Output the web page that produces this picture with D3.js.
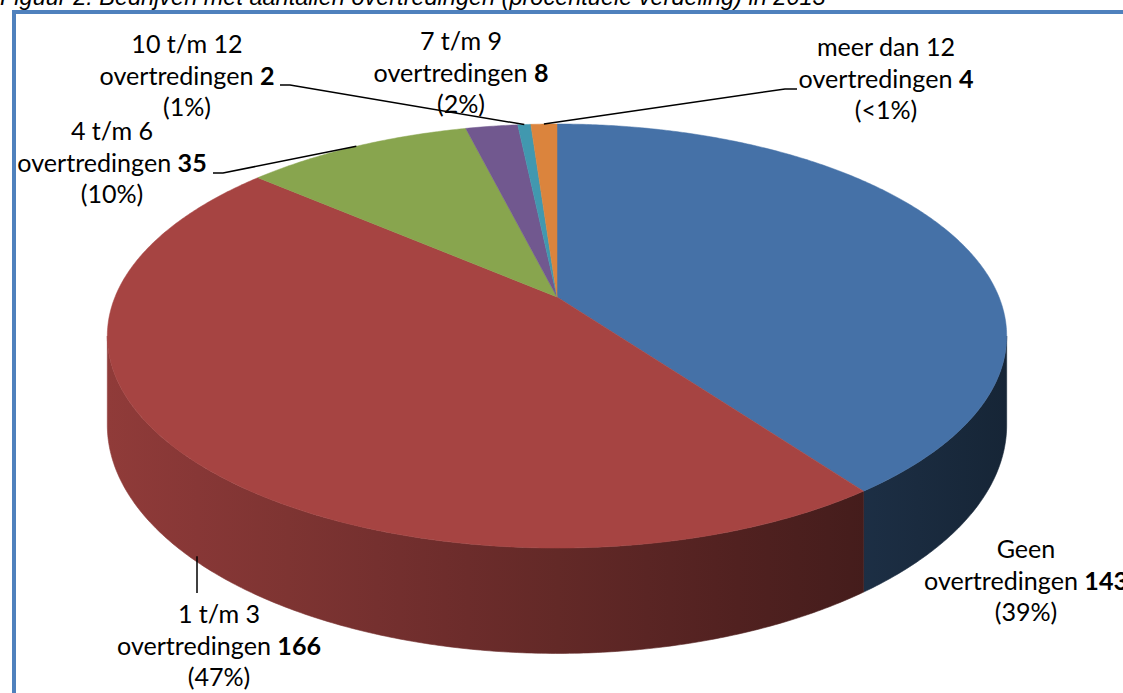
<!DOCTYPE html>
<html><head><meta charset="utf-8">
<script src="https://cdn.jsdelivr.net/npm/d3@7"></script>
<style>html,body{margin:0;padding:0;background:#fff;overflow:hidden}</style>
</head><body>
<svg id="c" width="1123" height="693" xmlns="http://www.w3.org/2000/svg"></svg>
<script>
// ---------- data ----------
const categories = ["Geen overtredingen","1 t/m 3 overtredingen","4 t/m 6 overtredingen","7 t/m 9 overtredingen","10 t/m 12 overtredingen","meer dan 12 overtredingen"];
const labelFirstLines = ["Geen","1 t/m 3","4 t/m 6","7 t/m 9","10 t/m 12","meer dan 12"];
const values = [143,166,35,8,2,4];
const pctLabels = ["(39%)","(47%)","(10%)","(2%)","(1%)","(<1%)"];
const colors = ["#4571A7","#A64442","#88A54E","#71588F","#4198AF","#DB843D"];
const titleText = "Figuur 2: Bedrijven met aantallen overtredingen (procentuele verdeling) in 2013";

// ---------- layout ----------
const W = 1123, H = 693;
const CX = 557, CY = 297, RA = 442, RB = 150.2, PERSP = -0.184, DEPTH = 86;
const LINE = 31.5;
const labelAnchor = [[1026,558],[219,623],[112,140],[461,50],[187,53],[886,56]];
// label-side ends of leader lines (null = no leader)
const leaderOuter = [null, [[197,593]], [[213,173],[223,173]], null, [[280,85],[290,85]], [[797,89],[785,89]]];

const svg = d3.select("#c");
const defs = svg.append("defs");

// frame
svg.append("rect").attr("x",14).attr("y",12).attr("width",1300).attr("height",900)
  .attr("fill","none").attr("stroke","#4F81BD").attr("stroke-width",4);

// title
const title = svg.append("text").attr("x",0).attr("y",5)
  .attr("font-family","'Liberation Sans', Arial, sans-serif").attr("font-style","italic")
  .attr("font-size",19).attr("fill","#000").text(titleText);
const tw = title.node().getComputedTextLength();
title.attr("font-size", 19*826/tw);

// projection of a pie angle onto the tilted perspective disc
function proj(a, depth){
  const u = Math.sin(a), v = -Math.cos(a);
  const w = 1 + PERSP*v;
  return [CX + RA*u/w, (RB*v + CY)/w + depth/w];
}
function arcPts(a0, a1, depth){
  const n = Math.max(2, Math.ceil(Math.abs(a1-a0)/(Math.PI/360)));
  return d3.range(n+1).map(i => proj(a0 + (a1-a0)*i/n, depth));
}

const pie = d3.pie().sort(null).value(d => d).startAngle(0).endAngle(2*Math.PI);
const arcs = pie(values);

const shade = d3.scaleLinear().domain([107,1008]).range([0.87,0.325]);
function darker(c, f){ const r = d3.rgb(c); return d3.rgb(r.r*f, r.g*f, r.b*f).formatHex(); }

// side gradients
colors.forEach((c,i) => {
  const g = defs.append("linearGradient").attr("id","g"+i)
    .attr("gradientUnits","userSpaceOnUse").attr("x1",107).attr("x2",1008).attr("y1",0).attr("y2",0);
  d3.range(0,11).forEach(k => {
    const x = 107 + (1008-107)*k/10;
    g.append("stop").attr("offset",(k*10)+"%").attr("stop-color",darker(c, shade(x)));
  });
});

const line = d3.line();
const visA0 = Math.acos(PERSP), visA1 = 2*Math.PI - Math.acos(PERSP);

// side walls
const walls = svg.append("g");
arcs.forEach((d,i) => {
  const a0 = Math.max(d.startAngle, visA0), a1 = Math.min(d.endAngle, visA1);
  if (a1 <= a0) return;
  const pts = arcPts(a0,a1,0).concat(arcPts(a1,a0,DEPTH));
  walls.append("path").attr("d", line(pts)+"Z").attr("fill","url(#g"+i+")")
    .attr("stroke","url(#g"+i+")").attr("stroke-width",0.6);
});

// top faces
const tops = svg.append("g");
arcs.forEach((d,i) => {
  const pts = [[CX,CY]].concat(arcPts(d.startAngle, d.endAngle, 0));
  tops.append("path").attr("d", line(pts)+"Z").attr("fill",colors[i])
    .attr("stroke",colors[i]).attr("stroke-width",0.5).attr("stroke-linejoin","round");
});

// leader lines
const leaders = svg.append("g");
arcs.forEach((d,i) => {
  if (!leaderOuter[i]) return;
  const mid = (d.startAngle + d.endAngle)/2;
  const inner = (i === 1) ? proj(mid, DEPTH) : proj(mid, 0);
  const pts = leaderOuter[i].concat([inner]);
  if (i === 1) { pts[1] = [leaderOuter[i][0][0], inner[1]+2]; }
  leaders.append("path").attr("d", line(pts)).attr("fill","none")
    .attr("stroke","#000").attr("stroke-width",1.5);
});

// labels
const FONT = "Lato, 'Open Sans', sans-serif";
const probe = svg.append("text").attr("font-family",FONT).attr("font-size",24).text("overtredingen");
const fs = 24*154/probe.node().getComputedTextLength();
probe.remove();

const labels = svg.append("g").attr("font-family",FONT).attr("font-size",fs)
  .attr("fill","#000").attr("text-anchor","middle");
arcs.forEach((d,i) => {
  const [x,y] = labelAnchor[i];
  const t = labels.append("text");
  t.append("tspan").attr("x",x).attr("y",y).text(labelFirstLines[i]);
  const l2 = t.append("tspan").attr("x",x).attr("y",y+LINE);
  l2.append("tspan").text("overtredingen ");
  l2.append("tspan").attr("font-weight","bold").text(values[i]);
  t.append("tspan").attr("x",x).attr("y",y+2*LINE).text(pctLabels[i]);
});
</script>
</body></html>
